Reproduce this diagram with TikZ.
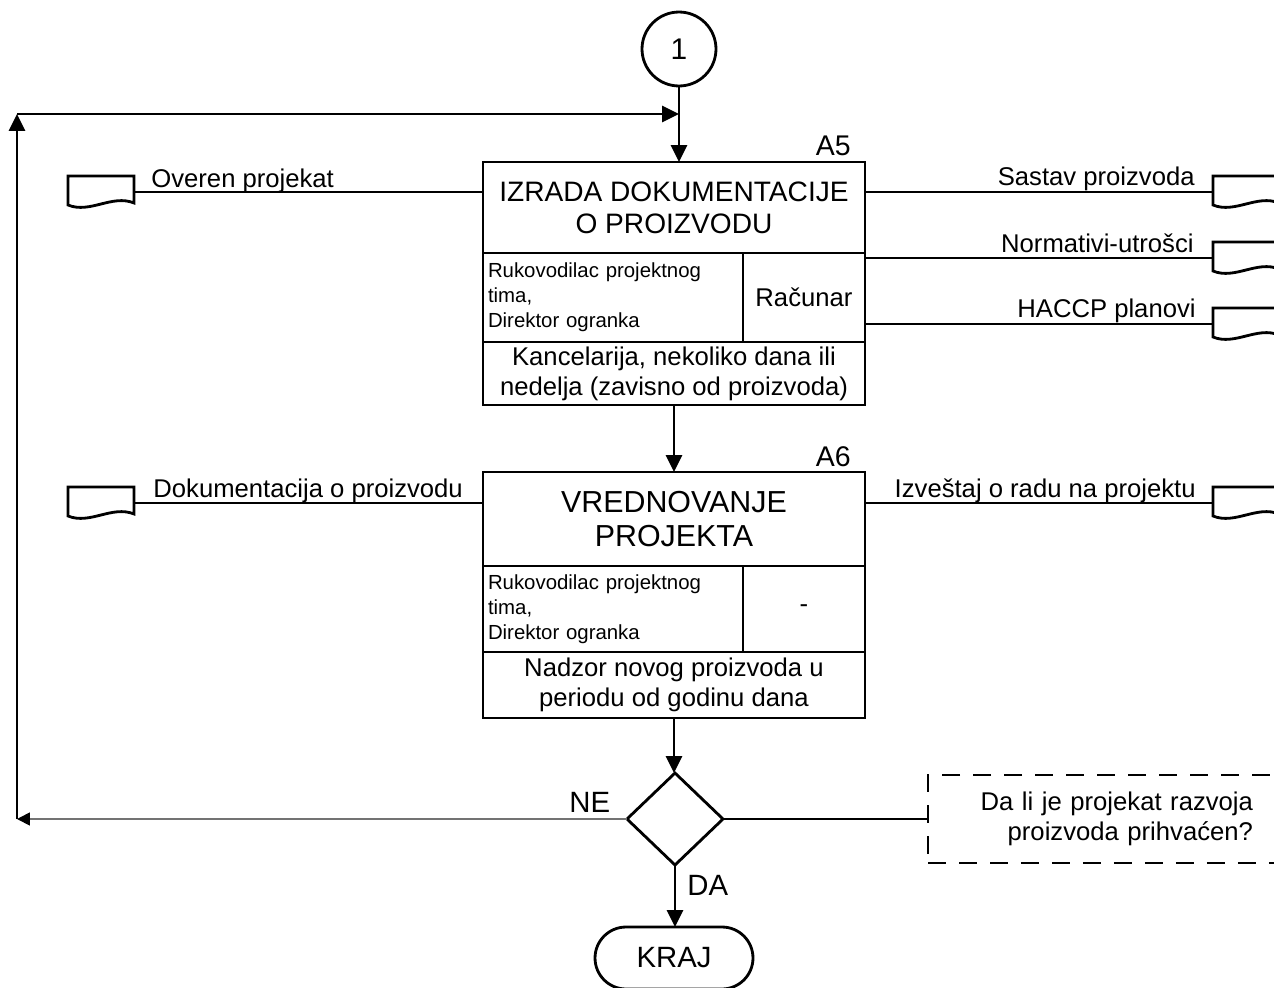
\documentclass[tikz,border=0pt]{standalone}
\usepackage{fontspec}
\setmainfont{Liberation Sans}
\usetikzlibrary{arrows.meta,shapes.geometric,shapes.misc}
\tikzset{
  cell/.style={draw, rectangle, inner sep=0pt, outer sep=0pt, anchor=north west},
  arr/.style={-{Triangle[length=0.34cm,width=0.32cm]}},
  arrs/.style={-{Triangle[length=0.26cm,width=0.26cm,black]}},
  fAt/.style={font=\fontsize{16}{18.2}\selectfont},
  fBt/.style={font=\fontsize{17.3}{19.8}\selectfont},
  fmed/.style={font=\fontsize{14.6}{17}\selectfont},
  fsmall/.style={font=\fontsize{11.6}{14.2}\selectfont},
  fbig/.style={font=\fontsize{16.7}{19}\selectfont},
  lab/.style={fmed, inner sep=0pt},
  doc/.pic={
    \draw (0,0) -- (66,0) -- (66,27) .. controls (44,18) and (22,38) .. (0,29) -- cycle;
    \coordinate (-e) at (66,16);
    \coordinate (-w) at (0,16);
  }
}
\begin{document}
\begin{tikzpicture}[x=0.02cm,y=-0.02cm,line width=1.6pt]
\path[use as bounding box] (0,0) rectangle (1274,987);
\clip (0,0) rectangle (1274,987);

% connector circle
\node[draw, circle, minimum size=1.48cm, inner sep=0pt, outer sep=0pt, font=\fontsize{17}{19}\selectfont] (c1) at (679,49) {1};

% A5 box
\node[cell, minimum width=7.64cm, minimum height=1.82cm, fAt, align=center] (a5t) at (483,162) {IZRADA DOKUMENTACIJE\\O PROIZVODU};
\node[cell, minimum width=5.2cm, minimum height=1.78cm, fsmall, text width=5cm, align=left] (a5w) at (a5t.south west) {Rukovodilac projektnog\\tima,\\Direktor ogranka};
\node[cell, minimum width=2.44cm, minimum height=1.78cm, fmed] (a5r) at (a5w.north east) {Računar};
\node[cell, minimum width=7.64cm, minimum height=1.26cm, fmed, align=center] (a5b) at (a5w.south west) {Kancelarija, nekoliko dana ili\\nedelja (zavisno od proizvoda)};
\node[font=\fontsize{16.2}{19}\selectfont, inner sep=0pt, anchor=base east] (a5lab) at (852,155) {A5};

% A6 box
\node[cell, minimum width=7.64cm, minimum height=1.88cm, fBt, align=center] (a6t) at (483,472) {VREDNOVANJE\\PROJEKTA};
\node[cell, minimum width=5.2cm, minimum height=1.72cm, fsmall, text width=5cm, align=left] (a6w) at (a6t.south west) {Rukovodilac projektnog\\tima,\\Direktor ogranka};
\node[cell, minimum width=2.44cm, minimum height=1.72cm, fmed] (a6r) at (a6w.north east) {-};
\node[cell, minimum width=7.64cm, minimum height=1.32cm, fmed, align=center] (a6b) at (a6w.south west) {Nadzor novog proizvoda u\\periodu od godinu dana};
\node[font=\fontsize{16.2}{19}\selectfont, inner sep=0pt, anchor=base east] (a6lab) at (852,466) {A6};

% decision and end
\node[draw, diamond, minimum width=1.92cm, minimum height=1.84cm, inner sep=0pt, outer sep=0pt] (dia) at (675,819) {};
\node[draw, rounded rectangle, minimum width=3.16cm, minimum height=1.24cm, inner sep=0pt, outer sep=0pt, fbig] (kraj) at (674,958) {KRAJ};
\node[draw, dash pattern=on 0.36cm off 0.26cm, inner xsep=1cm, inner ysep=0pt, text width=5.5cm, align=right, minimum height=1.76cm, anchor=west, outer sep=0pt, fmed] (note) at (928,819) {Da li je projekat razvoja\\proizvoda prihvaćen?};

% documents
\pic (dl1) at (68,176) {doc};
\pic (dl2) at (68,487) {doc};
\pic (dr1) at (1213,176) {doc};
\pic (dr2) at (1213,242) {doc};
\pic (dr3) at (1213,308) {doc};
\pic (dr4) at (1213,487) {doc};

% document connectors
\draw (dl1-e) -- (dl1-e -| a5t.west);
\draw (dr1-w) -- (dr1-w -| a5t.east);
\draw (dr2-w) -- (dr2-w -| a5r.east);
\draw (dr3-w) -- (dr3-w -| a5r.east);
\draw (dl2-e) -- (dl2-e -| a6t.west);
\draw (dr4-w) -- (dr4-w -| a6t.east);

% connector labels
\node[lab, anchor=base west] (l1) at (150,187) {Overen projekat};
\node[lab, anchor=base east] (l2) at (1196,185) {Sastav proizvoda};
\node[lab, anchor=base east] (l3) at (1195,252) {Normativi-utrošci};
\node[lab, anchor=base east] (l4) at (1197,317) {HACCP planovi};
\node[lab, anchor=base west] (l5) at (152,497) {Dokumentacija o proizvodu};
\node[lab, anchor=base east] (l6) at (1197,497) {Izveštaj o radu na projektu};

% flow
\coordinate (lt) at (17,114);
\coordinate (lb) at (17,819);
\draw[arr] (c1.south) -- (c1.south |- a5t.north);
\draw[arr] (lb) -- (lt);
\draw[arr] (lt) -- (c1.south |- lt);
\draw[arr] (a5b.south) -- (a5b.south |- a6t.north);
\draw[arr] (a6b.south) -- (a6b.south |- dia.north);
\draw[arr] (dia.south) -- (dia.south |- kraj.north);
\draw[arrs, line width=1pt, black!55] (dia.west) -- (lb);
\draw (dia.east) -- (dia.east -| note.west);

\node[fbig, inner sep=0pt, anchor=base west] (ne) at (568,812) {NE};
\node[fbig, inner sep=0pt, anchor=base west] (da) at (686,895) {DA};
\end{tikzpicture}
\end{document}
